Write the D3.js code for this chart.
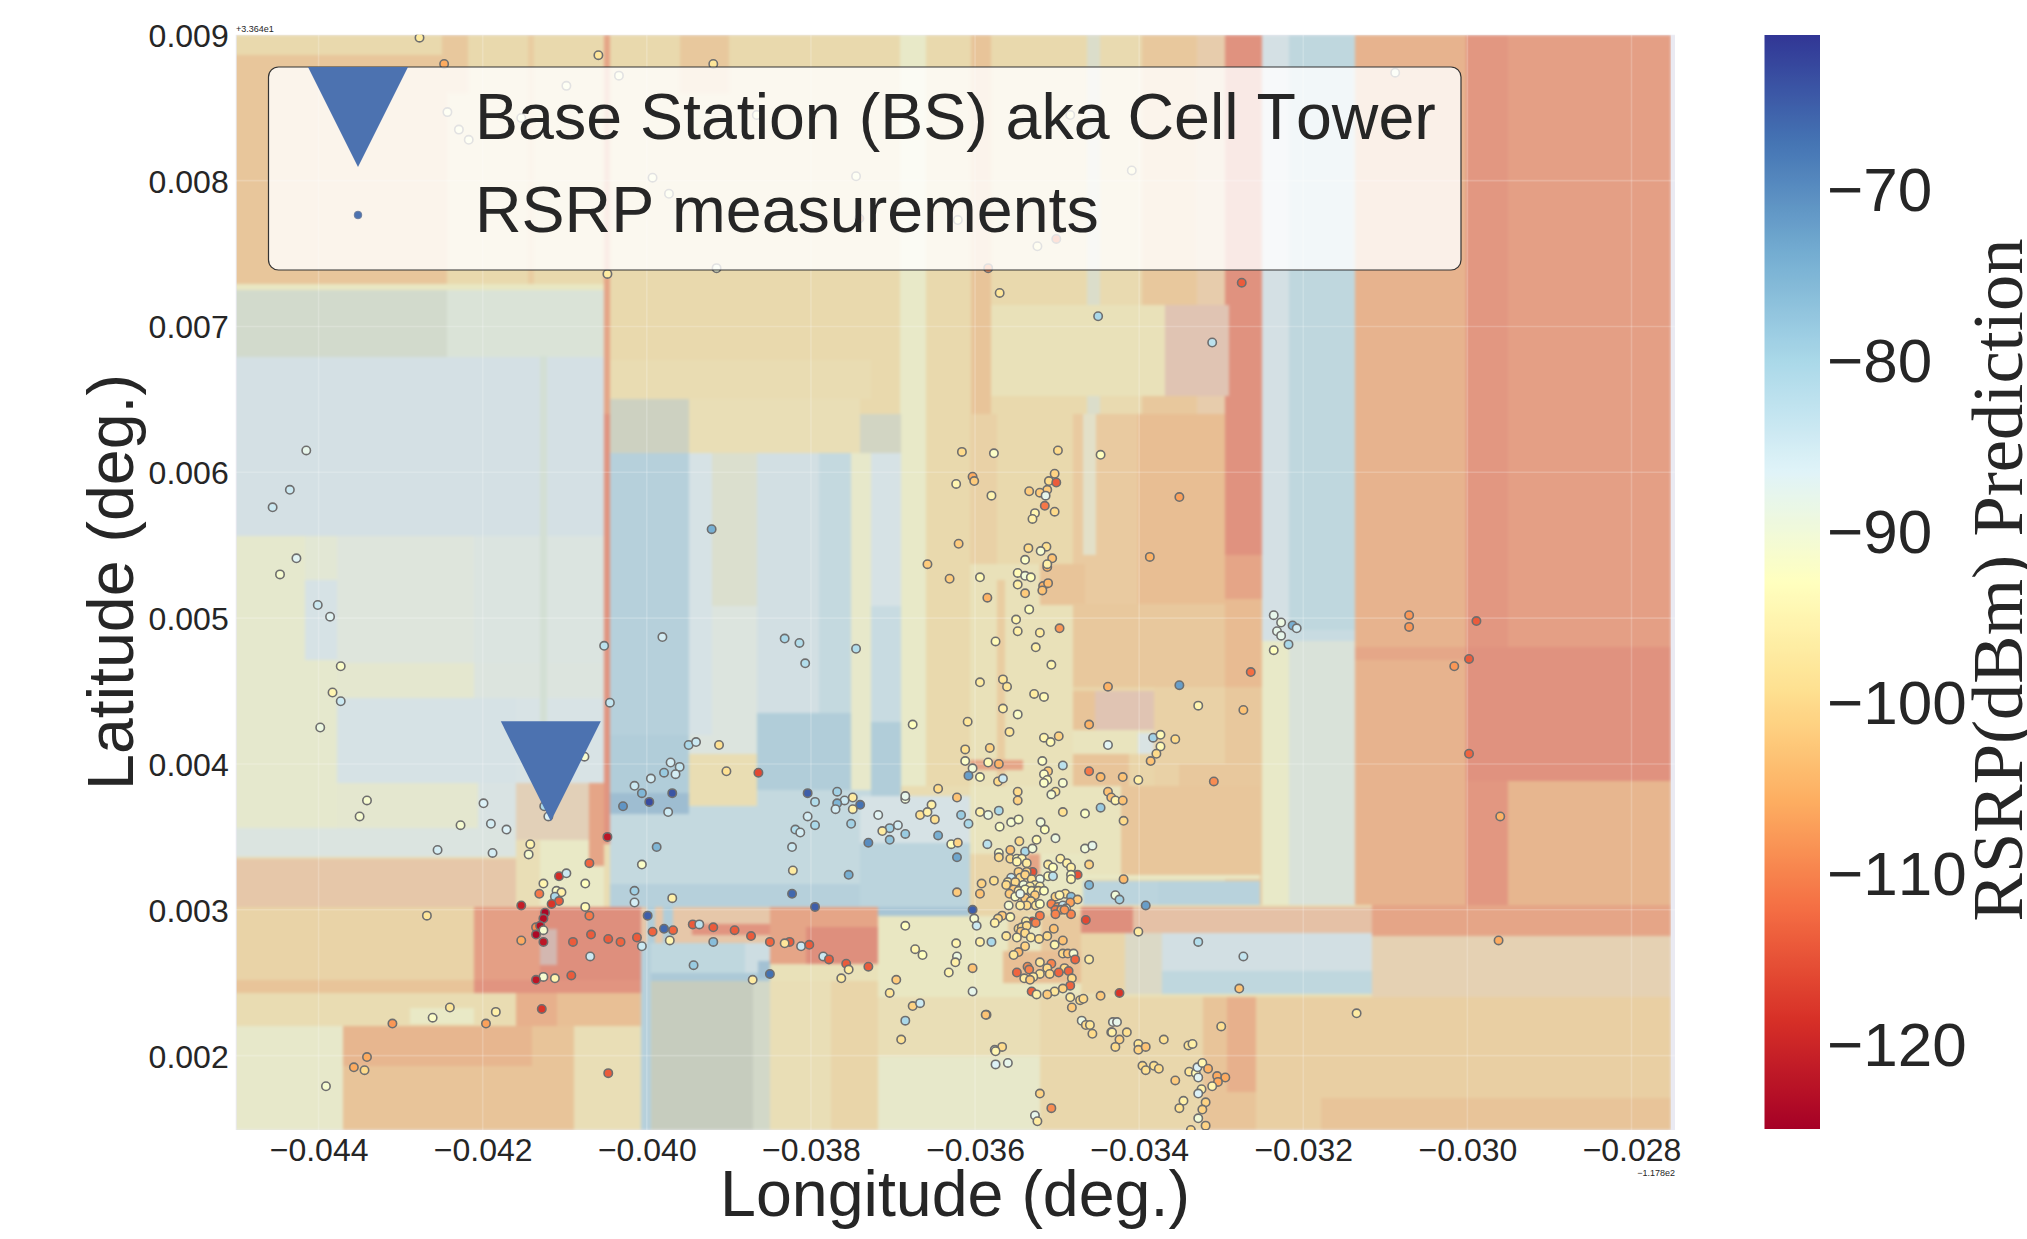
<!DOCTYPE html>
<html lang="en">
<head>
  <meta charset="UTF-8">
  <title>RSRP prediction map</title>
  <script src="https://d3js.org/d3.v7.min.js"></script>
  <style>
    body { margin: 0; background: #fff; }
    svg { display: block; }
    text { font-family: "Liberation Sans", Arial, sans-serif; fill: #262626; font-kerning: none; }
    .cbar-title { font-family: "Liberation Serif", "Times New Roman", serif; }
  </style>
</head>
<body>
<svg id="chart" width="2027" height="1239"></svg>
<script>
// All positions below are in 1e-5 degrees, relative to the axis offsets
// (lon -117.8, lat 33.64), so -4400 reads as -0.044 on the axis.
// Heat patches: [lonWest, lonEast, latSouth, latNorth, rsrp, optional 2nd rsrp to average with]
const xTicks = [-0.044, -0.042, -0.040, -0.038, -0.036, -0.034, -0.032, -0.030, -0.028];
const yTicks = [0.002, 0.003, 0.004, 0.005, 0.006, 0.007, 0.008, 0.009];
const cbarTicks = [-70, -80, -90, -100, -110, -120];
const rsrpRange = [-124.9, -60.9];
const baseStation = [-4117, 395];

const heatEastBands = [
  [-4505,-2752,149,900,-98],
  [-3002,-2752,303,900,-111], [-3002,-2950,303,900,-112.5], [-3002,-2752,388,480,-113.5],
  [-2950,-2752,303,388,-107], [-3137,-3002,303,900,-107.5], [-3141,-3002,471,480,-109.5],
  [-3218,-3137,492,900,-81], [-3218,-3137,484,492,-83], [-3218,-3137,303,484,-84,-91],
  [-3250,-3218,484,900,-85.5], [-3250,-3218,303,484,-92.5],
  [-3295,-3250,543,900,-113.5], [-3295,-3250,513,543,-110], [-3295,-3250,453,513,-106], [-3295,-3250,303,453,-103],
  [-3330,-3295,640,900,-108,-92], [-3397,-3330,640,900,-103], [-3448,-3397,640,900,-98.5],
  [-3464,-3448,640,900,-84,-98], [-3580,-3464,640,900,-99], [-3605,-3580,640,900,-104],
  [-3660,-3605,640,900,-99], [-3692,-3660,385,900,-92.5], [-3740,-3692,640,900,-99],
  [-3960,-3740,640,900,-99], [-4046,-3960,640,900,-99], [-3960,-3900,860,900,-103],
  [-3368,-3291,652,715,-110,-88], [-3580,-3368,652,715,-96]
];
const heatMiddle = [
  [-3402,-3295,453,640,-105.5], [-3481,-3402,453,640,-102.5], [-3469,-3452,543,640,-88,-98],
  [-3660,-3481,385,640,-99], [-3606,-3573,385,640,-101], [-3606,-3481,385,537,-96],
  [-3521,-3466,509,537,-104], [-3481,-3295,453,510,-103], [-3573,-3563,378,526,-102],
  [-3481,-3382,385,453,-100], [-3481,-3454,423,450,-104], [-3454,-3382,423,450,-110,-88],
  [-3481,-3382,407,423,-95], [-3402,-3382,407,421,-87], [-3382,-3295,384,453,-101],
  [-3352,-3255,378,400,-103], [-3481,-3412,378,407,-104], [-3606,-3541,396,403,-110],
  [-3606,-3422,324,385,-95], [-3606,-3521,302,338,-100], [-3521,-3466,303,338,-94],
  [-3536,-3521,324,338,-110], [-3422,-3253,324,385,-103.5], [-3469,-3253,321,324,-93],
  [-3469,-3377,303,320,-80], [-3377,-3253,303,320,-79.5]
];
const heatWest = [
  [-4505,-4243,729,886,-103.5], [-4505,-4052,886,900,-99], [-4243,-4052,729,900,-99],
  [-4250,-4218,860,900,-103], [-4145,-4137,729,900,-102], [-4505,-4243,679,725,-80,-96],
  [-4505,-4052,725,729,-94], [-4243,-4052,679,725,-84,-92], [-4505,-4052,556,679,-85.5],
  [-4505,-4416,471,556,-91.5], [-4416,-4378,526,556,-90], [-4416,-4378,471,526,-86],
  [-4378,-4210,469,556,-88.5], [-4210,-4052,469,556,-87.5], [-4378,-4210,445,469,-91],
  [-4210,-4052,445,469,-88], [-4378,-4160,387,445,-86], [-4160,-4052,387,445,-86.5],
  [-4505,-4378,356,471,-91.5], [-4378,-4206,356,387,-91], [-4206,-4160,356,387,-87],
  [-4505,-4160,336,356,-87.5], [-4160,-4070,348,387,-106,-88], [-4130,-4122,387,680,-81,-92],
  [-4505,-4160,302,335,-110,-92], [-4160,-4130,302,348,-97], [-4130,-4052,302,348,-93],
  [-4070,-4052,330,387,-110], [-4505,-4210,252,302,-100.5], [-4505,-4210,243,252,-104],
  [-4505,-4210,220,243,-98], [-4288,-4160,222,233,-93], [-4505,-4370,149,220,-92],
  [-4370,-4089,149,220,-104], [-4370,-4140,193,220,-107], [-4210,-4130,252,302,-111],
  [-4130,-4007,252,302,-114], [-4130,-4110,262,287,-113,-82], [-4210,-4007,243,252,-113],
  [-4210,-4160,220,243,-98], [-4160,-4110,220,243,-108], [-4110,-4007,220,243,-105],
  [-4089,-4007,149,220,-97], [-4052,-4045,640,900,-110], [-4052,-4045,345,640,-113]
];
const heatBlueBlock = [
  [-4045,-3727,302,382,-82], [-4045,-3727,302,318,-79], [-3740,-3606,346,378,-86], [-3740,-3606,302,346,-80],
  [-3740,-3690,613,640,-80,-100], [-3727,-3690,508,613,-86], [-3727,-3690,429,508,-83], [-3727,-3690,378,429,-78],
  [-4045,-3948,420,613,-79], [-3948,-3920,420,613,-86], [-3920,-3866,508,613,-84,-96], [-3920,-3866,407,508,-88],
  [-3948,-3920,407,420,-88], [-3866,-3790,435,613,-85], [-3790,-3751,435,613,-82], [-3751,-3727,382,613,-92],
  [-4045,-3948,380,420,-78], [-3948,-3866,371,407,-97.5], [-3866,-3751,382,435,-78],
  [-4045,-3948,366,380,-74], [-4045,-3948,613,650,-78,-100], [-4045,-3727,650,677,-98], [-3948,-3740,613,650,-97]
];
const heatSouth = [
  [-4007,-3995,149,302,-79], [-3995,-3850,149,251,-75,-100], [-3870,-3850,149,251,-80,-98],
  [-3850,-3776,149,251,-97], [-3776,-3718,149,251,-100], [-3850,-3718,251,263,-96],
  [-3995,-3850,251,257,-77], [-3995,-3880,257,277,-81], [-3880,-3850,257,277,-84], [-3865,-3850,253,265,-75],
  [-4007,-3850,277,302,-110,-92], [-3945,-3850,283,290,-113], [-4000,-3990,277,302,-78], [-3980,-3968,277,302,-78],
  [-3850,-3718,263,302,-110], [-3806,-3718,263,288,-114], [-3718,-3471,240,296,-94],
  [-3566,-3471,250,272,-105], [-3520,-3471,272,296,-103], [-3560,-3540,272,296,-101],
  [-3718,-3606,296,302,-76], [-3606,-3471,296,302,-100],
  [-3116,-2752,282,303,-110], [-3116,-2752,240,282,-106,-90], [-3471,-3116,284,302,-112,-92],
  [-3471,-3407,284,302,-114], [-3471,-3417,242,284,-100], [-3417,-3116,258,284,-85],
  [-3417,-3116,242,258,-81], [-3417,-3372,242,284,-100,-84], [-3521,-3116,240,242,-96],
  [-3521,-3322,149,240,-99.5], [-3718,-3521,200,240,-97], [-3718,-3521,149,200,-92],
  [-3322,-3258,149,240,-104], [-3293,-3258,175,240,-108], [-3258,-3178,149,240,-101.5],
  [-3178,-2752,171,240,-101.5], [-3178,-2752,149,171,-104]
];

// Measurements: [lon, lat, rsrp]
const pointsTop = [
  [-4277,898,-97],[-4247,880,-106],[-4059,886,-98],[-3919,880,-98],[-4034,872,-92],[-4098,865,-92],
  [-4243,847,-92],[-4229,835,-92],[-4217,828,-92],[-4153,843,-92],[-3866,845,-92],[-3993,802,-92],
  [-3973,791,-92],[-3745,803,-92],[-3741,774,-110],[-3915,740,-90],[-4048,736,-97],[-3088,874,-90],
  [-3484,845,-94],[-3409,807,-94],[-3621,773,-94],[-3524,755,-94],[-3501,760,-112],[-3584,740,-110],
  [-3570,723,-98],[-3275,730,-114],[-3450,707,-80],[-3311,689,-82]
];
const pointsWest = [
  [-4415,615,-88],[-4435,588,-84],[-4456,576,-84],[-4427,541,-87],[-4447,530,-91],[-4401,509,-84],
  [-4386,501,-87],[-4373,467,-92],[-4383,449,-95],[-4373,443,-84],[-4398,425,-89],[-4341,375,-91],
  [-4350,364,-91],[-4227,358,-91],[-4190,359,-85],[-4171,355,-86],[-4199,373,-86],[-4125,371,-80],
  [-4120,364,-86],[-4076,405,-91],[-4052,481,-82],[-4045,442,-83],[-4048,350,-122],
  [-4142,345,-95],[-4144,338,-91],[-4255,341,-85],[-4188,339,-85],[-4268,296,-98]
];
const pointsBlueBlock = [
  [-3981,487,-85],[-3921,561,-74],[-3949,413,-80],[-3940,415,-84],[-3912,413,-99],[-3971,401,-85],
  [-3960,398,-83],[-3979,394,-78],[-3965,393,-85],[-3903,395,-99],[-3864,394,-116],[-3995,390,-85],
  [-4015,385,-84],[-4006,380,-75],[-3969,380,-64],[-3997,374,-63],[-4029,371,-71],[-3974,367,-84],
  [-3832,486,-80],[-3814,483,-81],[-3807,469,-81],[-3745,479,-81],[-3804,380,-65],[-3768,381,-79],
  [-3795,374,-81],[-3759,375,-84],[-3749,377,-97],[-3768,373,-75],[-3740,372,-67],[-3770,369,-85],
  [-3749,369,-96],[-3804,364,-85],[-3795,358,-80],[-3819,355,-81],[-3813,353,-85],[-3751,359,-79],
  [-3988,343,-75],[-4006,331,-92],[-3969,308,-96],[-4015,313,-79],[-4015,305,-85],
  [-3823,343,-84],[-3822,327,-97],[-3754,324,-74],[-3823,311,-66],[-3795,302,-65],[-3730,346,-70]
];
const pointsCorridor = [
  [-4070,332,-113],[-4107,323,-119],[-4098,325,-84],[-4126,318,-95],[-4075,318,-93],[-4131,311,-111],
  [-4110,313,-92],[-4104,312,-96],[-4112,309,-80],[-4107,306,-114],[-4116,304,-118],[-4153,303,-121],
  [-4075,302,-94],[-4070,296,-111],[-4124,298,-124],[-4126,294,-123],[-4135,288,-109],[-4130,289,-123],
  [-4126,286,-91],[-4135,283,-124],[-4126,278,-122],[-4153,279,-106],[-4090,278,-114],[-4068,283,-114],
  [-4047,280,-114],[-4032,278,-113],[-4012,281,-114],[-4006,275,-84],[-3993,285,-113],[-3979,287,-66],
  [-3999,296,-65],[-3968,286,-113],[-3944,290,-114],[-3936,290,-82],[-3919,288,-114],[-3893,286,-114],
  [-3873,282,-114],[-3850,278,-113],[-3826,278,-114],[-3832,277,-98],[-3812,275,-84],[-3802,276,-114],
  [-3785,268,-84],[-3778,266,-114],[-3757,263,-114],[-3754,259,-97],[-3730,261,-114],[-3763,253,-97],
  [-3972,279,-95],[-3919,278,-76],[-3943,262,-78],[-3850,256,-67],[-3871,252,-97],[-4069,268,-84]
];
const pointsSouthWest = [
  [-4126,254,-91],[-4112,253,-95],[-4135,252,-122],[-4092,255,-114],[-4128,232,-118],[-4240,233,-98],
  [-4261,226,-92],[-4184,230,-96],[-4310,222,-108],[-4196,222,-107],[-4341,199,-106],[-4357,192,-106],
  [-4344,190,-100],[-4391,179,-91],[-4047,188,-114]
];
const pointsNorthCentre = [
  [-3616,614,-100],[-3577,613,-92],[-3499,615,-100],[-3447,612,-93],[-3503,599,-101],[-3603,597,-106],
  [-3601,594,-102],[-3623,592,-95],[-3510,594,-100],[-3501,593,-114],[-3512,588,-102],[-3534,587,-102],
  [-3521,586,-102],[-3514,584,-88],[-3580,584,-95],[-3351,583,-107],[-3515,577,-111],[-3503,573,-100],
  [-3527,572,-95],[-3530,568,-96],[-3620,551,-102],[-3535,548,-100],[-3513,549,-99],[-3520,546,-91],
  [-3512,535,-105],[-3506,541,-103],[-3539,540,-92],[-3387,542,-105],[-3512,537,-96],[-3658,537,-102],
  [-3631,527,-102],[-3594,528,-94],[-3548,531,-94],[-3539,529,-90],[-3532,528,-93],[-3548,523,-96],
  [-3517,522,-105],[-3511,524,-104],[-3518,519,-103],[-3539,517,-102],[-3585,514,-105],[-3534,506,-93],
  [-3550,499,-95],[-3548,491,-96],[-3521,490,-97],[-3497,493,-108],[-3575,484,-94],[-3526,480,-96],
  [-3507,468,-95],[-3594,456,-97],[-3566,458,-98],[-3561,453,-98],[-3528,448,-97],[-3516,446,-94],
  [-3566,438,-96],[-3548,434,-92],[-3676,427,-93],[-3609,429,-98],[-3558,422,-98],[-3516,418,-95],
  [-3508,415,-94],[-3498,419,-101],[-3612,410,-99],[-3582,411,-101],[-3612,402,-92],[-3584,401,-94],
  [-3571,400,-105],[-3603,397,-90],[-3608,392,-72],[-3594,391,-93],[-3572,388,-100],[-3566,390,-84],
  [-3518,402,-92],[-3493,399,-82],[-3511,395,-102],[-3516,393,-92],[-3512,389,-93],[-3516,387,-92],
  [-3493,387,-91],[-3548,381,-100],[-3548,375,-101],[-3502,381,-98],[-3507,379,-91],[-3645,383,-100],
  [-3622,377,-103],[-3685,376,-90],[-3685,378,-88],[-3653,372,-96],[-3667,365,-99],[-3658,367,-96],
  [-3649,362,-99],[-3718,365,-87],[-3694,358,-85],[-3704,356,-79],[-3685,352,-78],[-3713,354,-97],
  [-3617,365,-78],[-3608,359,-80],[-3594,367,-96],[-3584,365,-89],[-3571,368,-80],[-3570,357,-92],
  [-3556,360,-91],[-3547,362,-92],[-3520,360,-90],[-3515,355,-93],[-3645,351,-74],[-3704,348,-77],
  [-3546,347,-100],[-3525,348,-94],[-3502,349,-89],[-3493,367,-99],[-3466,366,-92],[-3447,370,-78],
  [-3419,361,-100],[-3461,427,-105],[-3438,453,-105],[-3438,413,-87],[-3461,395,-111],[-3447,391,-104],
  [-3420,391,-103],[-3401,389,-96],[-3438,381,-103],[-3434,377,-103],[-3429,375,-95],[-3420,375,-103],
  [-3351,454,-72],[-3328,440,-95],[-3273,437,-103],[-3264,463,-112],[-3383,418,-79],[-3374,420,-94],
  [-3356,417,-100],[-3374,412,-94],[-3379,407,-100],[-3386,402,-103],[-3309,388,-109]
];
const pointsEast = [
  [-3236,502,-88],[-3227,497,-89],[-3213,495,-74],[-3208,493,-85],[-3232,491,-88],[-3227,488,-88],
  [-3218,482,-80],[-3236,478,-93],[-3071,502,-108],[-3071,494,-108],[-2989,498,-114],[-2998,472,-114],
  [-3016,467,-108],[-2998,407,-113],[-2960,364,-105],[-2962,279,-106],[-3135,229,-97],[-3278,246,-103],
  [-3328,278,-81],[-3273,268,-83]
];
const pointsCluster = [
  [-3629,345,-93],[-3621,346,-101],[-3585,345,-82],[-3466,342,-90],[-3457,344,-88],[-3461,331,-101],
  [-3419,321,-104],[-3622,336,-73],[-3571,339,-92],[-3571,336,-100],[-3557,341,-103],[-3557,335,-100],
  [-3539,340,-80],[-3530,342,-90],[-3549,335,-94],[-3543,335,-95],[-3549,333,-95],[-3537,332,-97],
  [-3496,335,-96],[-3488,332,-96],[-3483,329,-96],[-3511,331,-97],[-3505,329,-93],[-3622,312,-102],
  [-3592,318,-101],[-3594,311,-103],[-3577,320,-99],[-3530,326,-115],[-3475,324,-115],[-3483,324,-93],
  [-3483,321,-95],[-3461,317,-75],[-3511,323,-94],[-3505,323,-82],[-3556,322,-84],[-3547,326,-101],
  [-3537,326,-101],[-3545,322,-100],[-3539,324,-101],[-3521,321,-89],[-3531,321,-99],[-3560,319,-97],
  [-3551,319,-100],[-3562,317,-100],[-3541,317,-90],[-3527,317,-97],[-3533,316,-97],[-3521,316,-96],
  [-3553,314,-102],[-3547,313,-96],[-3539,314,-94],[-3531,313,-96],[-3523,313,-98],[-3558,311,-102],
  [-3551,309,-92],[-3539,308,-102],[-3545,311,-88],[-3527,310,-102],[-3532,306,-100],[-3537,303,-100],
  [-3545,303,-96],[-3559,303,-91],[-3526,303,-98],[-3521,304,-93],[-3516,313,-93],[-3502,309,-101],
  [-3490,311,-99],[-3497,310,-95],[-3483,309,-76],[-3475,307,-102],[-3484,305,-107],[-3507,304,-110],
  [-3499,302,-108],[-3502,300,-111],[-3493,303,-83],[-3489,301,-90],[-3495,300,-106],[-3483,297,-110],
  [-3502,297,-110],[-3491,300,-108],[-3465,293,-116],[-3521,296,-111],[-3530,292,-118],[-3526,291,-110],
  [-3538,292,-97],[-3567,296,-102],[-3557,295,-94],[-3572,294,-100],[-3576,291,-96],[-3504,287,-103],
  [-3547,287,-100],[-3543,288,-100],[-3537,289,-100],[-3544,285,-102],[-3539,284,-100],[-3549,281,-95],
  [-3562,282,-98],[-3532,281,-97],[-3522,280,-99],[-3512,282,-100],[-3493,279,-103],[-3503,276,-95],
  [-3580,278,-80],[-3539,275,-101],[-3547,271,-104],[-3553,269,-98]
];
const pointsSouth = [
  [-3493,270,-100],[-3487,270,-103],[-3480,270,-91],[-3478,266,-113],[-3461,266,-97],[-3521,264,-98],
  [-3507,263,-110],[-3536,261,-109],[-3534,259,-110],[-3512,260,-100],[-3491,260,-100],[-3486,258,-113],
  [-3549,257,-113],[-3498,257,-113],[-3521,256,-98],[-3509,256,-100],[-3529,254,-97],[-3540,253,-97],
  [-3533,252,-102],[-3482,253,-100],[-3484,248,-113],[-3493,246,-101],[-3503,244,-98],[-3512,242,-102],
  [-3531,244,-113],[-3525,242,-96],[-3484,240,-97],[-3472,238,-100],[-3468,239,-100],[-3447,241,-102],
  [-3482,233,-102],[-3586,228,-101],[-3470,224,-89],[-3465,221,-100],[-3460,221,-98],[-3457,215,-100],
  [-3434,216,-95],[-3567,206,-100],[-3576,204,-88],[-3432,223,-88],[-3685,289,-93],[-3673,273,-95],
  [-3664,269,-93],[-3623,277,-95],[-3594,278,-96],[-3601,294,-91],[-3598,289,-84],[-3603,300,-65],
  [-3622,268,-89],[-3624,264,-96],[-3632,257,-95],[-3603,260,-103],[-3696,252,-102],[-3704,243,-98],
  [-3676,234,-101],[-3667,236,-84],[-3603,244,-88],[-3685,224,-80],[-3690,211,-99],[-3587,228,-103],
  [-3575,203,-95],[-3575,194,-86],[-3560,195,-88],[-3521,174,-101],[-3507,164,-109],[-3527,159,-88],
  [-3524,155,-97],[-3429,310,-90],[-3424,307,-79],[-3392,303,-72],[-3401,285,-97],[-3424,243,-118],
  [-3427,223,-88],[-3433,216,-96],[-3415,216,-99],[-3424,211,-101],[-3429,206,-100],[-3401,208,-98],
  [-3401,204,-101],[-3392,206,-103],[-3370,211,-99],[-3340,207,-98],[-3335,208,-96],[-3300,220,-99],
  [-3396,193,-100],[-3392,190,-99],[-3382,193,-99],[-3376,191,-100],[-3356,183,-102],[-3339,189,-98],
  [-3331,188,-94],[-3329,192,-86],[-3323,195,-95],[-3328,185,-87],[-3316,191,-105],[-3305,186,-106],
  [-3295,185,-106],[-3304,182,-106],[-3311,179,-95],[-3324,177,-96],[-3328,174,-86],[-3346,169,-96],
  [-3351,164,-99],[-3319,168,-101],[-3323,163,-101],[-3328,157,-90],[-3319,152,-101],[-3337,149,-100]
];

const heatPatches = [...heatEastBands, ...heatMiddle, ...heatWest, ...heatBlueBlock, ...heatSouth];
const measurements = [...pointsTop, ...pointsWest, ...pointsBlueBlock, ...pointsCorridor, ...pointsSouthWest,
  ...pointsNorthCentre, ...pointsEast, ...pointsCluster, ...pointsSouth];

const svg = d3.select("#chart");
const plot = { left: 235.7, right: 1675, top: 34.8, bottom: 1130 };

const x = d3.scaleLinear().domain([-0.04501, -0.02747]).range([plot.left, plot.right]);
const y = d3.scaleLinear().domain([0.00149, 0.009]).range([plot.bottom, plot.top]);
const deg = v => v / 1e5;

// matplotlib's RdYlBu is piecewise linear over the 11 brewer colours
const rdYlBu = d3.piecewise(d3.interpolateRgb, d3.schemeRdYlBu[11]);
const color = d3.scaleSequential(rdYlBu).domain(rsrpRange);

// image was drawn semi transparent over a grey, so everything is muted
function heatColor(v, v2) {
  const c = d3.rgb(v2 === undefined ? color(v) : d3.interpolateRgb(color(v), color(v2))(0.5));
  return d3.rgb(c.r * 0.55 + 93, c.g * 0.55 + 93, c.b * 0.55 + 93).formatHex();
}

const defs = svg.append("defs");
defs.append("clipPath").attr("id", "plot-clip").append("rect")
  .attr("x", plot.left).attr("y", plot.top)
  .attr("width", plot.right - plot.left).attr("height", plot.bottom - plot.top);
defs.append("clipPath").attr("id", "img-clip").append("rect")
  .attr("x", plot.left + 1).attr("y", plot.top)
  .attr("width", x(deg(-2752)) - plot.left - 1).attr("height", plot.bottom - plot.top);
defs.append("filter").attr("id", "soft")
  .attr("x", "-2%").attr("y", "-2%").attr("width", "104%").attr("height", "104%")
  .attr("color-interpolation-filters", "sRGB")
  .append("feGaussianBlur").attr("stdDeviation", 1.8);

svg.append("rect")
  .attr("x", plot.left).attr("y", plot.top)
  .attr("width", plot.right - plot.left).attr("height", plot.bottom - plot.top)
  .attr("fill", "#eaeaf2");

// Heat map
svg.append("g").attr("clip-path", "url(#img-clip)")
  .append("g").attr("filter", "url(#soft)")
  .selectAll("rect")
  .data(heatPatches)
  .enter().append("rect")
  .attr("shape-rendering", "crispEdges")
  .attr("x", d => x(deg(d[0])))
  .attr("width", d => x(deg(d[1])) - x(deg(d[0])))
  .attr("y", d => y(deg(d[3])))
  .attr("height", d => y(deg(d[2])) - y(deg(d[3])))
  .attr("fill", d => heatColor(d[4], d[5]));

// Grid shows through the image
const grid = svg.append("g").attr("stroke", "#fff").attr("stroke-opacity", 0.2).attr("stroke-width", 1.6);
grid.selectAll(".gx").data(xTicks).enter().append("line")
  .attr("x1", d => x(d)).attr("x2", d => x(d)).attr("y1", plot.top).attr("y2", plot.bottom);
grid.selectAll(".gy").data(yTicks).enter().append("line")
  .attr("y1", d => y(d)).attr("y2", d => y(d)).attr("x1", plot.left).attr("x2", plot.right);

// Measurements
svg.append("g").attr("clip-path", "url(#plot-clip)")
  .selectAll("circle")
  .data(measurements)
  .enter().append("circle")
  .attr("cx", d => x(deg(d[0])))
  .attr("cy", d => y(deg(d[1])))
  .attr("r", 4.2)
  .attr("fill", d => color(d[2]))
  .attr("stroke", "#6e6e6e")
  .attr("stroke-width", 1.6);

// Base station marker
const triangle = "M-50,-50L50,-50L0,50Z";
svg.append("path")
  .attr("d", triangle)
  .attr("transform", `translate(${x(deg(baseStation[0]))},${y(deg(baseStation[1]))})`)
  .attr("fill", "#4c72b0");

// Axes
const xAxis = d3.axisBottom(x).tickValues(xTicks).tickFormat(d3.format(".3f")).tickSize(0).tickPadding(8);
const yAxis = d3.axisLeft(y).tickValues(yTicks).tickFormat(d3.format(".3f")).tickSize(0).tickPadding(7);
const gx = svg.append("g").attr("transform", `translate(0,${plot.bottom})`).call(xAxis);
const gy = svg.append("g").attr("transform", `translate(${plot.left},0)`).call(yAxis);
[gx, gy].forEach(g => {
  g.select(".domain").remove();
  g.selectAll("text").attr("font-size", 32).attr("font-family", "Liberation Sans").attr("fill", "#262626");
});
gy.selectAll("text").attr("dy", "0.36em");

svg.append("text").attr("x", 955).attr("y", 1216).attr("text-anchor", "middle")
  .attr("font-size", 64.5).text("Longitude (deg.)");
svg.append("text").attr("transform", "translate(133,582) rotate(-90)").attr("text-anchor", "middle")
  .attr("font-size", 64.5).text("Latitude (deg.)");
svg.append("text").attr("x", 236).attr("y", 32).attr("font-size", 9).text("+3.364e1");
svg.append("text").attr("x", 1675).attr("y", 1176).attr("text-anchor", "end")
  .attr("font-size", 9).text("\u22121.178e2");

// Legend
const legend = svg.append("g");
legend.append("rect")
  .attr("x", 268.5).attr("y", 67).attr("width", 1192.5).attr("height", 203).attr("rx", 10)
  .attr("fill", "#fff").attr("fill-opacity", 0.8).attr("stroke", "#333").attr("stroke-width", 1.2);
legend.append("path").attr("d", triangle).attr("transform", "translate(358,117)").attr("fill", "#4c72b0");
legend.append("circle").attr("cx", 358).attr("cy", 215).attr("r", 3.8).attr("fill", "#4c72b0").attr("stroke", "#6e7f9e");
legend.append("text").attr("x", 475).attr("y", 139).attr("font-size", 64.5).text("Base Station (BS) aka Cell Tower");
legend.append("text").attr("x", 475).attr("y", 232).attr("font-size", 64.5).text("RSRP measurements");

// Colour bar
const cbar = { left: 1764.5, right: 1820, top: 35, bottom: 1129 };
const cbarScale = d3.scaleLinear().domain(rsrpRange).range([cbar.bottom, cbar.top]);
const cbarStops = d3.range(0, 257).map(i => i / 256);
const gradient = defs.append("linearGradient").attr("id", "cbar-grad")
  .attr("x1", 0).attr("x2", 0).attr("y1", 1).attr("y2", 0);
gradient.selectAll("stop").data(cbarStops).enter().append("stop")
  .attr("offset", d => d).attr("stop-color", d => rdYlBu(d));
svg.append("rect")
  .attr("x", cbar.left).attr("y", cbar.top)
  .attr("width", cbar.right - cbar.left).attr("height", cbar.bottom - cbar.top)
  .attr("fill", "url(#cbar-grad)");

const cbarAxis = d3.axisRight(cbarScale).tickValues(cbarTicks).tickFormat(d3.format("d")).tickSize(0).tickPadding(7);
const gc = svg.append("g").attr("transform", `translate(${cbar.right},0)`).call(cbarAxis);
gc.select(".domain").remove();
gc.selectAll("text").attr("font-size", 62).attr("font-family", "Liberation Sans").attr("fill", "#262626");

svg.append("text").attr("class", "cbar-title")
  .attr("transform", "translate(2022,580) rotate(-90)").attr("text-anchor", "middle")
  .attr("font-size", 72.5).text("RSRP(dBm) Prediction");
</script>
</body>
</html>
